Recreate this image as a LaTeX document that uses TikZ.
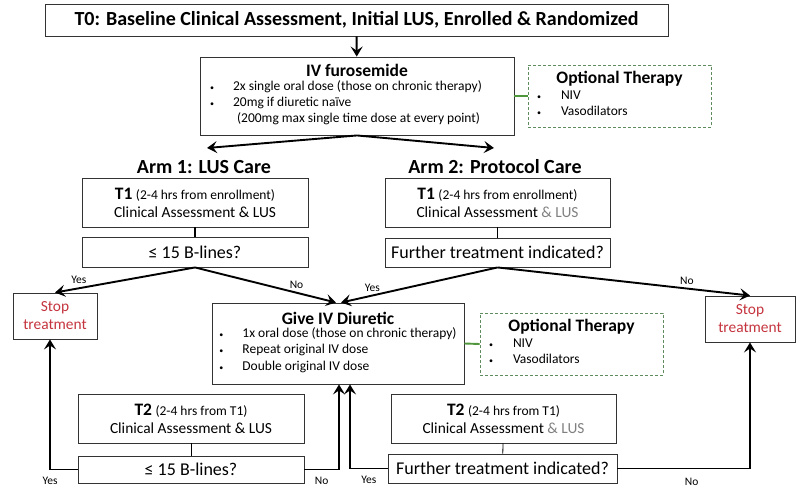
\documentclass[tikz,border=0pt]{standalone}
\usepackage{fontspec}
\setmainfont{Carlito}
\usetikzlibrary{arrows,arrows.meta}
\definecolor{stopred}{RGB}{196,52,62}
\definecolor{optgreen}{RGB}{95,140,95}
\definecolor{linkgreen}{RGB}{80,150,60}
\newcommand{\titlef}{\fontsize{17.5}{20}\selectfont\bfseries}
\newcommand{\smallf}{\fontsize{13.5}{16.3}\selectfont}
\newcommand{\askf}{\fontsize{18}{20}\selectfont}
\newcommand{\dotb}{{\fontsize{8}{8}\selectfont\textbullet}}
\tikzstyle{box}=[draw=black!80,line width=0.9pt,inner sep=0pt,align=center,font=\fontsize{15.4}{18}\selectfont]
\tikzstyle{optbox}=[draw=optgreen,dash pattern=on 3pt off 2pt,line width=0.9pt,inner sep=0pt,align=center]
\tikzstyle{arm}=[font=\fontsize{20}{22}\selectfont\bfseries,inner sep=2pt]
\tikzstyle{edge}=[draw,line width=1.9pt,-{Stealth[length=10pt,width=12pt,inset=4pt]}]
\tikzstyle{link}=[draw,line width=1.9pt]
\tikzstyle{answer}=[font=\fontsize{11.5}{13}\selectfont]

\begin{document}
\begin{tikzpicture}[x=1pt,y=-1pt]
\useasboundingbox (0,0) rectangle (800,493);

% Start and first dose
\node[box,minimum width=623pt,minimum height=32pt,font=\fontsize{20}{22}\selectfont\bfseries] (t0) at (356.5,20)
  {T0: Baseline Clinical Assessment, Initial LUS, Enrolled \& Randomized};
\node[box,minimum width=314pt,minimum height=78pt] (ivf) at (357,96) {{\titlef IV furosemide}\\[1pt]
  \smallf\begin{tabular}{@{}p{23pt}@{}l@{\hspace{22pt}}}
  \dotb & 2x single oral dose (those on chronic therapy)\\
  \dotb & 20mg if diuretic naïve\\
  & \hspace{4pt}(200mg max single time dose at every point)
  \end{tabular}};
\node[optbox,minimum width=183pt,minimum height=62pt] (opt1) at (619.5,96) {{\titlef Optional Therapy}\\[1pt]
  \smallf\begin{tabular}{@{}p{24pt}@{}p{141pt}@{}}
  \dotb & NIV\\ \dotb & Vasodilators
  \end{tabular}};

% The two arms
\node[arm] (arm1) at (204,167) {Arm 1: LUS Care};
\node[arm] (arm2) at (495,167) {Arm 2: Protocol Care};
\coordinate (arm1in) at (207,148);
\coordinate (arm2in) at (494,148);

\node[box,minimum width=226pt,minimum height=49pt] (t1a) at (195,202.5)
  {{\titlef T1} {\smallf (2-4 hrs from enrollment)}\\Clinical Assessment \& LUS};
\node[box,minimum width=226pt,minimum height=30pt,font=\askf] (ba) at (195,252) {≤ 15 B-lines?};
\node[box,minimum width=225pt,minimum height=49pt] (t1b) at (497.5,202.5)
  {{\titlef T1} {\smallf (2-4 hrs from enrollment)}\\Clinical Assessment {\color{black!50}\& LUS}};
\node[box,minimum width=225pt,minimum height=29pt,font=\askf] (fb) at (497.5,252.5) {Further treatment indicated?};

% Outcomes
\node[box,minimum width=84pt,minimum height=46pt,text=stopred] (stopa) at (55,316) {Stop\\treatment};
\node[box,minimum width=90pt,minimum height=46pt,text=stopred] (stopb) at (750,319) {Stop\\treatment};
\node[box,minimum width=252pt,minimum height=81pt] (give) at (338,343.5) {{\titlef Give IV Diuretic}\\[1pt]
  \smallf\begin{tabular}{@{}p{23pt}@{}l@{}}
  \dotb & 1x oral dose (those on chronic therapy)\\
  \dotb & Repeat original IV dose\\
  \dotb & Double original IV dose
  \end{tabular}};
\node[optbox,minimum width=183pt,minimum height=62pt] (opt2) at (571.5,344) {{\titlef Optional Therapy}\\[1pt]
  \smallf\begin{tabular}{@{}p{24pt}@{}p{141pt}@{}}
  \dotb & NIV\\ \dotb & Vasodilators
  \end{tabular}};

% Second assessment
\node[box,minimum width=226pt,minimum height=49pt] (t2a) at (191,418.5)
  {{\titlef T2} {\smallf (2-4 hrs from T1)}\\Clinical Assessment \& LUS};
\node[box,minimum width=226pt,minimum height=27pt,font=\askf] (bb2) at (191,469.5) {≤ 15 B-lines?};
\node[box,minimum width=225pt,minimum height=49pt] (t2b) at (503.5,418.5)
  {{\titlef T2} {\smallf (2-4 hrs from T1)}\\Clinical Assessment {\color{black!50}\& LUS}};
\node[box,minimum width=229pt,minimum height=29pt,font=\askf] (fb2) at (502.5,468.5) {Further treatment indicated?};

% Connect boxes
\path[edge] (t0) -- (ivf);
\foreach \dest in {arm1in,arm2in}
  \path[edge] (ivf.south) -- (\dest);
\foreach \source/\dest in {t1a/ba,t1b/fb}
  \path[link] (\source) -- (\dest);
\foreach \source/\dest in {t2a/bb2,t2b/fb2}
  \path[draw,line width=0.8pt] (\source) -- (\dest);
\foreach \source/\dest in {ivf/opt1,give/opt2}
  \path[link,draw=linkgreen] (\source.east) -- (\dest.west);

\path[edge] (ba.south) -- node[answer,pos=0.83,above] {Yes} (stopa.north);
\path[edge] (ba.south) -- node[answer,pos=0.72,above] {No} ([xshift=-2pt]give.north);
\path[edge] (fb.south) -- node[answer,pos=0.8,above] {Yes} ([xshift=3pt]give.north);
\path[edge] (fb.south) -- node[answer,pos=0.75,above] {No} (stopb.north);

\path[edge] (bb2.west) -| node[answer,pos=0.5,below=3pt] {Yes} ([xshift=-5pt]stopa.south);
\path[edge] (bb2.east) -| node[answer,pos=0.25,below=3pt] {No} ([xshift=1pt]give.south);
\path[edge] (fb2.west) -| node[answer,pos=0.25,below=3pt] {Yes} ([xshift=12pt]give.south);
\path[edge] (fb2.east) -| node[answer,pos=0.28,below=5pt] {No} (stopb.south);

\end{tikzpicture}
\end{document}
